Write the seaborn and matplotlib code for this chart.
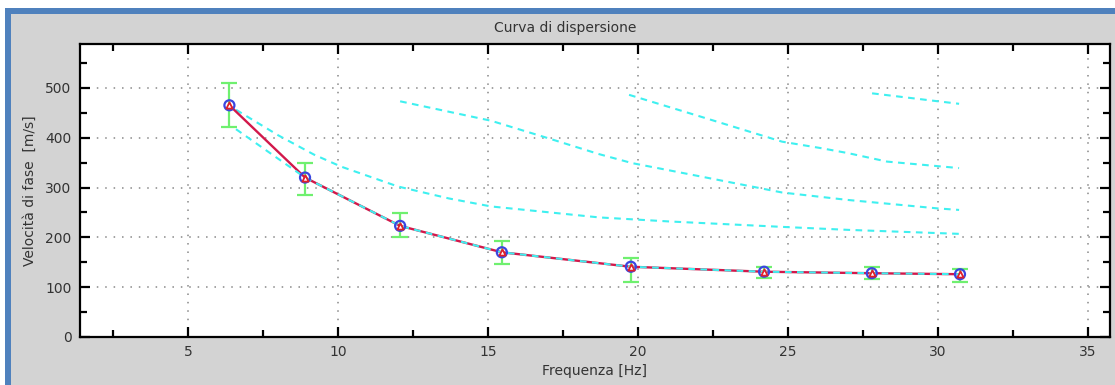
import matplotlib
matplotlib.use("Agg")
import matplotlib.pyplot as plt
from matplotlib.patches import Rectangle
from matplotlib.ticker import MultipleLocator
import seaborn as sns
import pandas as pd
import numpy as np

# ---- data ----
freq = [6.38, 8.9, 12.07, 15.46, 19.76, 24.2, 27.79, 30.73]
vel = [465, 320, 223, 170, 141, 131, 128, 126]
err_low = [44, 35, 22, 24, 31, 13, 12, 16]
err_high = [44, 29, 25, 23, 17, 10, 13, 10]

mode0_f = [6.6, 8.9, 12.07, 15.46, 19.76, 24.2, 27.79, 30.73]
mode0_v = [417, 320, 223, 170, 141, 131, 128, 126]
mode1_f = [6.6, 8.0, 9.2, 10.1, 12.0, 13.7, 15.1, 18.7, 21.0, 24.8, 27.0, 30.7]
mode1_v = [456, 405, 366, 342, 302, 278, 262, 240, 232, 221, 215, 207]
mode2_f = [12.07, 13.7, 15.1, 17.0, 18.7, 19.8, 22.1, 24.8, 27.0, 30.0, 30.7]
mode2_v = [473, 452, 434, 399, 367, 349, 322, 290, 275, 258, 255]
mode3_f = [19.7, 22.1, 24.8, 26.1, 27.0, 28.3, 30.7]
mode3_v = [486, 442, 392, 379, 369, 352, 339]
mode4_f = [27.8, 30.0, 30.7]
mode4_v = [489, 473, 468]

x_ticks = [5, 10, 15, 20, 25, 30, 35]
y_ticks = [0, 100, 200, 300, 400, 500]

title = "Curva di dispersione"
xlabel = "Frequenza [Hz]"
ylabel = "Velocità di fase  [m/s]"

# ---- style ----
sns.set_style("white")
plt.rcParams['font.family'] = ['DejaVu Sans']

W, H = 1115, 385
fig = plt.figure(figsize=(W / 100, H / 100), dpi=100)
fig.patch.set_facecolor("white")

# frame: gray panel with blue border (top and left)
fig.patches.append(Rectangle((5 / W, 0), 1 - 5 / W, 1 - 8 / H, transform=fig.transFigure,
                             facecolor="#4f81bd", edgecolor="none", zorder=-3))
fig.patches.append(Rectangle((11 / W, 0), 1 - 11 / W, 1 - 14 / H, transform=fig.transFigure,
                             facecolor="#d3d3d3", edgecolor="none", zorder=-2))

ax = fig.add_axes([80 / W, 48 / H, 1030 / W, 293 / H])
ax.set_facecolor("white")

cyan = "#3ff0f0"
dash = (0, (3.2, 2.6))

# higher modes
for f, v in [(mode1_f, mode1_v), (mode2_f, mode2_v), (mode3_f, mode3_v), (mode4_f, mode4_v)]:
    sns.lineplot(x=f, y=v, ax=ax, color=cyan, linewidth=1.5, sort=False,
                 estimator=None, zorder=3)
    ax.lines[-1].set_linestyle(dash)

# error bars
ax.errorbar(freq, vel, yerr=[err_low, err_high], fmt="none", ecolor="#6ff06f",
            elinewidth=1.6, capsize=5.5, capthick=1.6, zorder=4)

# experimental curve
sns.lineplot(x=freq, y=vel, ax=ax, color="#d2184a", linewidth=1.7, sort=False,
             estimator=None, zorder=5)
# fundamental mode on top
sns.lineplot(x=mode0_f, y=mode0_v, ax=ax, color=cyan, linewidth=1.5, sort=False,
             estimator=None, zorder=6)
ax.lines[-1].set_linestyle(dash)

# markers
df = pd.DataFrame({"f": freq, "v": vel})
sns.scatterplot(data=df, x="f", y="v", ax=ax, marker="o", s=52, facecolor="none",
                edgecolor="#3a46e0", linewidth=1.6, zorder=7)
sns.scatterplot(data=df, x="f", y="v", ax=ax, marker="^", s=20, facecolor="white",
                edgecolor="#e0202a", linewidth=1.3, zorder=8)

# axes
ax.set_xlim(1.4, 35.73)
ax.set_ylim(0, 588)
ax.set_xticks(x_ticks)
ax.set_yticks(y_ticks)
ax.xaxis.set_minor_locator(MultipleLocator(2.5))
ax.yaxis.set_minor_locator(MultipleLocator(50))
ax.tick_params(which="both", direction="in", top=True, right=True, bottom=True, left=True,
               colors="black", labelcolor="#333333", labelsize=10, width=1.6)
ax.tick_params(which="major", length=7.5, pad=6)
ax.tick_params(which="minor", length=5)
for s in ax.spines.values():
    s.set_visible(True)
    s.set_color("black")
    s.set_linewidth(1.6)

ax.grid(True, which="major", color="#888888", linestyle=(0, (1, 4.5)), linewidth=1.1)
ax.set_axisbelow(True)

ax.set_xlabel(xlabel, fontsize=10, color="#333333", labelpad=3)
ax.set_ylabel(ylabel, fontsize=10, color="#333333")
ax.yaxis.set_label_coords(-43 / 1030, 0.5)
fig.text(565 / W, 1 - 28 / H, title, ha="center", va="center", fontsize=10, color="#333333")

fig.savefig("out.png", dpi=100, facecolor=fig.get_facecolor())
